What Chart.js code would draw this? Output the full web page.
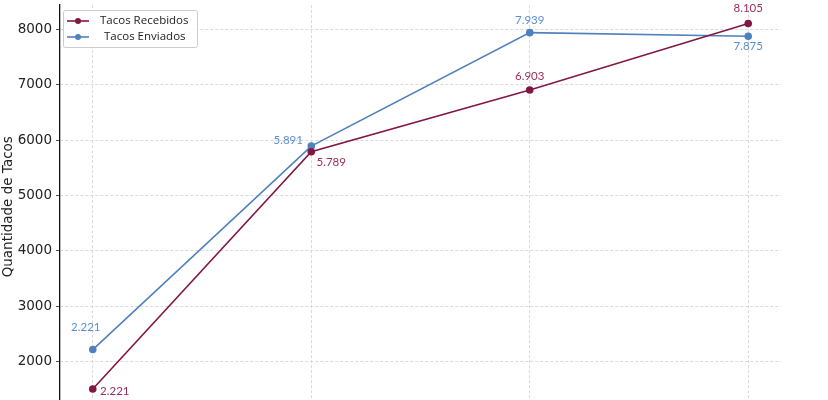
<!DOCTYPE html>
<html>
<head>
<meta charset="utf-8">
<script src="https://cdn.jsdelivr.net/npm/chart.js@4"></script>
<style>
  html, body { margin: 0; padding: 0; background: #fff; overflow: hidden; }
  #wrap { position: relative; width: 828px; height: 400px; overflow: hidden; }
  #box { position: absolute; left: 0; top: -7px; width: 828px; height: 437px; }
</style>
</head>
<body>
<div id="wrap"><div id="box"><canvas id="c"></canvas></div></div>
<script>
// dados
const categorias = ['Etapa 1', 'Etapa 2', 'Etapa 3', 'Etapa 4'];
const tacosRecebidos = [1510, 5789, 6903, 8105];
const tacosEnviados = [2221, 5891, 7939, 7875];
const rotulosRecebidos = ['2.221', '5.789', '6.903', '8.105'];
const rotulosEnviados = ['2.221', '5.891', '7.939', '7.875'];
const yTicks = [2000, 3000, 4000, 5000, 6000, 7000, 8000];

const corRecebidos = '#821744';
const corEnviados = '#4f81bd';

// deslocamento dos rotulos (px) por ponto
const offRecebidos = [[22, 2], [20, 10], [0, -14], [0, -15]];
const offEnviados = [[-7, -22], [-23, -6], [0, -12], [0, 10]];

const toPoints = arr => arr.map((v, i) => ({ x: i, y: v }));

const rotulosPlugin = {
  id: 'rotulos',
  afterDatasetsDraw(chart) {
    const ctx = chart.ctx;
    const sets = [
      { meta: chart.getDatasetMeta(0), txt: rotulosRecebidos, off: offRecebidos, cor: '#9b2c5a' },
      { meta: chart.getDatasetMeta(1), txt: rotulosEnviados, off: offEnviados, cor: '#5b8fd0' }
    ];
    ctx.save();
    ctx.font = '11.5px Lato, "Open Sans", sans-serif';
    ctx.textAlign = 'center';
    ctx.textBaseline = 'middle';
    sets.forEach(s => {
      ctx.fillStyle = s.cor;
      s.meta.data.forEach((el, i) => {
        ctx.fillText(s.txt[i], el.x + s.off[i][0], el.y + s.off[i][1]);
      });
    });
    ctx.restore();
  }
};

new Chart(document.getElementById('c'), {
  type: 'line',
  data: {
    labels: categorias,
    datasets: [
      {
        label: 'Tacos Recebidos',
        data: toPoints(tacosRecebidos),
        borderColor: corRecebidos,
        backgroundColor: corRecebidos,
        borderWidth: 1.6,
        pointRadius: 3,
        pointHoverRadius: 3,
        tension: 0
      },
      {
        label: 'Tacos Enviados',
        data: toPoints(tacosEnviados),
        borderColor: corEnviados,
        backgroundColor: corEnviados,
        borderWidth: 1.6,
        pointRadius: 3,
        pointHoverRadius: 3,
        tension: 0
      }
    ]
  },
  options: {
    responsive: true,
    maintainAspectRatio: false,
    animation: false,
    layout: { padding: { top: 5, right: 47, left: 0, bottom: 0 } },
    plugins: {
      legend: { display: false },
      tooltip: { enabled: false }
    },
    scales: {
      x: {
        type: 'linear',
        min: -0.15,
        max: 3.15,
        afterBuildTicks: s => { s.ticks = categorias.map((c, i) => ({ value: i })); },
        ticks: {
          callback: v => categorias[v] ?? '',
          font: { family: 'DejaVu Sans', size: 13 },
          color: '#222'
        },
        grid: {
          color: '#d0d0d0',
          lineWidth: 0.8,
          drawTicks: false
        },
        border: { display: false, dash: [3, 2] }
      },
      y: {
        min: 1159,
        max: 8436,
        afterBuildTicks: s => { s.ticks = yTicks.map(v => ({ value: v })); },
        afterFit: s => { s.width = 60; },
        ticks: {
          callback: v => String(v),
          font: { family: 'DejaVu Sans', size: 13.5 },
          color: '#222',
          padding: 4
        },
        title: {
          display: true,
          text: 'Quantidade de Tacos',
          font: { family: 'DejaVu Sans', size: 13.5 },
          color: '#222',
          padding: { top: 0, bottom: 0 }
        },
        grid: {
          color: '#d0d0d0',
          lineWidth: 0.8,
          tickLength: 4,
          tickColor: '#222'
        },
        border: { display: true, color: '#111', width: 1.3, dash: [3, 2] }
      }
    }
  },
  plugins: [rotulosPlugin, {
    id: 'legendaBox',
    afterDraw(chart) {
      const ctx = chart.ctx;
      const x = 63, y = 17, w = 134, h = 37;
      ctx.save();
      ctx.fillStyle = 'rgba(255,255,255,0.9)';
      ctx.strokeStyle = '#ccc';
      ctx.lineWidth = 1;
      ctx.beginPath();
      ctx.roundRect(x + 0.5, y + 0.5, w, h, 2);
      ctx.fill();
      ctx.stroke();
      ctx.font = '11.5px "Open Sans", Lato, sans-serif';
      ctx.textBaseline = 'middle';
      chart.data.datasets.forEach((ds, i) => {
        const ly = y + 11 + i * 16;
        ctx.strokeStyle = ds.borderColor;
        ctx.lineWidth = 1.6;
        ctx.beginPath();
        ctx.moveTo(x + 4, ly);
        ctx.lineTo(x + 26, ly);
        ctx.stroke();
        ctx.fillStyle = ds.borderColor;
        ctx.beginPath();
        ctx.arc(x + 15, ly, 3, 0, Math.PI * 2);
        ctx.fill();
        ctx.fillStyle = '#222';
        ctx.fillText(ds.label, x + (i === 0 ? 37 : 41), ly);
      });
      ctx.restore();
    }
  }]
});
</script>
</body>
</html>
